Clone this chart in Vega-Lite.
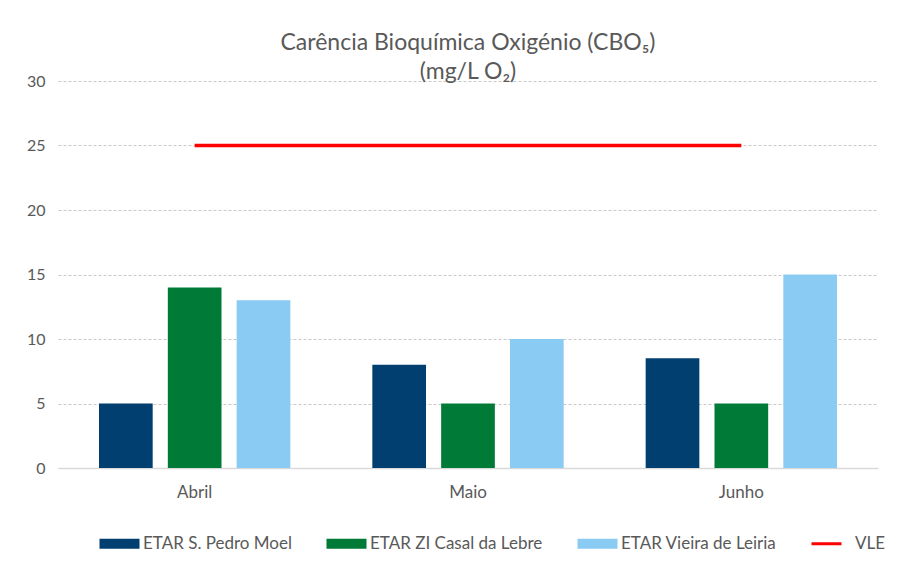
{
  "$schema": "https://vega.github.io/schema/vega-lite/v6.json",
  "width": 820,
  "height": 387,
  "autosize": {"type": "none"},
  "padding": {"left": 58, "top": 81, "right": 43, "bottom": 119},
  "background": "white",
  "title": {
    "text": ["Carência Bioquímica Oxigénio (CBO₅)", "(mg/L O₂)"],
    "font": "Lato",
    "fontSize": 23,
    "fontWeight": "normal",
    "color": "#595959",
    "anchor": "middle",
    "offset": -11,
    "lineHeight": 29
  },
  "data": {
    "values": [
      {"mes": "Abril", "serie": "ETAR S. Pedro Moel", "valor": 5},
      {"mes": "Abril", "serie": "ETAR ZI Casal da Lebre", "valor": 14},
      {"mes": "Abril", "serie": "ETAR Vieira de Leiria", "valor": 13},
      {"mes": "Maio", "serie": "ETAR S. Pedro Moel", "valor": 8},
      {"mes": "Maio", "serie": "ETAR ZI Casal da Lebre", "valor": 5},
      {"mes": "Maio", "serie": "ETAR Vieira de Leiria", "valor": 10},
      {"mes": "Junho", "serie": "ETAR S. Pedro Moel", "valor": 8.5},
      {"mes": "Junho", "serie": "ETAR ZI Casal da Lebre", "valor": 5},
      {"mes": "Junho", "serie": "ETAR Vieira de Leiria", "valor": 15},
      {"mes": "Abril", "serie": "VLE", "valor": 25},
      {"mes": "Maio", "serie": "VLE", "valor": 25},
      {"mes": "Junho", "serie": "VLE", "valor": 25}
    ]
  },
  "encoding": {
    "x": {
      "field": "mes",
      "type": "nominal",
      "sort": ["Abril", "Maio", "Junho"],
      "scale": {"paddingInner": 0.3, "paddingOuter": 0.15},
      "axis": {
        "title": null,
        "labelAngle": 0,
        "labelFont": "Lato",
        "labelFontSize": 17,
        "labelColor": "#595959",
        "labelPadding": 16,
        "ticks": false,
        "domainColor": "#d9d9d9",
        "domainWidth": 1.3,
        "grid": false
      }
    },
    "y": {
      "field": "valor",
      "type": "quantitative",
      "scale": {"domain": [0, 30]},
      "axis": {
        "title": null,
        "values": [0, 5, 10, 15, 20, 25, 30],
        "labelFont": "Lato",
        "labelFontSize": 16,
        "labelColor": "#595959",
        "labelPadding": 13,
        "ticks": false,
        "domain": false,
        "grid": true,
        "gridColor": "#c8c8c8",
        "gridDash": [3, 2],
        "gridWidth": 1
      }
    },
    "color": {
      "field": "serie",
      "type": "nominal",
      "scale": {
        "domain": ["ETAR S. Pedro Moel", "ETAR ZI Casal da Lebre", "ETAR Vieira de Leiria", "VLE"],
        "range": ["#003f6f", "#007a37", "#89cbf3", "#ff0000"]
      },
      "legend": {
        "title": null,
        "orient": "none",
        "legendX": 38,
        "legendY": 454,
        "direction": "horizontal",
        "labelFont": "Lato",
        "labelFontSize": 17,
        "labelColor": "#595959",
        "labelOffset": 30,
        "labelLimit": 400,
        "columnPadding": 31,
        "symbolSize": 100,
        "encode": {
          "symbols": {
            "update": {
              "shape": {"signal": "datum.value === 'VLE' ? 'M-1,-0.3h6v0.6h-6z' : 'M-1,-1h8v2h-8z'"},
              "fill": {"scale": "color", "field": "value"},
              "stroke": {"value": "transparent"},
              "strokeWidth": {"value": 0},
              "size": {"value": 100},
              "opacity": {"value": 1}
            }
          }
        }
      }
    }
  },
  "layer": [
    {
      "transform": [{"filter": "datum.serie !== 'VLE'"}],
      "mark": {"type": "bar"},
      "encoding": {
        "xOffset": {
          "field": "serie",
          "type": "nominal",
          "sort": ["ETAR S. Pedro Moel", "ETAR ZI Casal da Lebre", "ETAR Vieira de Leiria"],
          "scale": {"paddingInner": 0.22, "paddingOuter": 0}
        }
      }
    },
    {
      "transform": [{"filter": "datum.serie === 'VLE'"}],
      "mark": {"type": "line", "strokeWidth": 3.5, "strokeCap": "butt"},
      "encoding": {}
    }
  ],
  "config": {
    "view": {"stroke": null},
    "font": "Lato"
  }
}
